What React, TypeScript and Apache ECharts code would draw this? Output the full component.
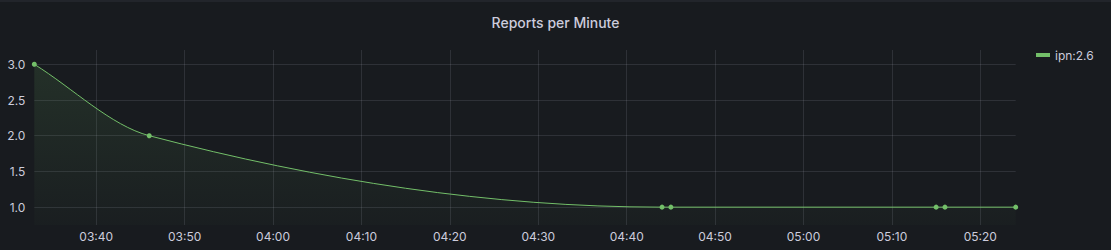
import React, { useEffect, useRef } from "react";
import * as echarts from "echarts";

// time in minutes since 00:00
const times = [213, 226, 284, 285, 315, 316, 324];
const values = [3.0, 2.0, 1.0, 1.0, 1.0, 1.0, 1.0];
const seriesName = "ipn:2.6";
const title = "Reports per Minute";

const fmt = (m: number) => {
  const h = Math.floor(m / 60);
  const mm = Math.round(m % 60);
  return `${String(h).padStart(2, "0")}:${String(mm).padStart(2, "0")}`;
};

// monotone cubic (Fritsch–Carlson) path through pixel points
function monotonePath(pts: number[][]): string {
  const n = pts.length;
  const xs = pts.map((p) => p[0]);
  const ys = pts.map((p) => p[1]);
  let d = `M${xs[0]},${ys[0]}`;
  if (n === 2) return d + `L${xs[1]},${ys[1]}`;
  const dx: number[] = [], ds: number[] = [], ms: number[] = new Array(n);
  for (let i = 0; i < n - 1; i++) {
    dx[i] = xs[i + 1] - xs[i];
    ds[i] = (ys[i + 1] - ys[i]) / dx[i];
  }
  ms[0] = ds[0];
  for (let i = 1; i < n - 1; i++) {
    if (ds[i] === 0 || ds[i - 1] === 0 || ds[i - 1] > 0 !== ds[i] > 0) ms[i] = 0;
    else {
      ms[i] =
        (3 * (dx[i - 1] + dx[i])) /
        ((2 * dx[i] + dx[i - 1]) / ds[i - 1] + (dx[i] + 2 * dx[i - 1]) / ds[i]);
      if (!isFinite(ms[i])) ms[i] = 0;
    }
  }
  ms[n - 1] = ds[n - 2];
  for (let i = 0; i < n - 1; i++) {
    d += `C${xs[i] + dx[i] / 3},${ys[i] + (ms[i] * dx[i]) / 3} ${xs[i + 1] - dx[i] / 3},${
      ys[i + 1] - (ms[i + 1] * dx[i]) / 3
    } ${xs[i + 1]},${ys[i + 1]}`;
  }
  return d;
}

export default function App() {
  const ref = useRef<HTMLDivElement>(null);
  useEffect(() => {
    if (!ref.current) return;
    const chart = echarts.init(ref.current, null, { renderer: "svg" });
    const green = "#73BF69";
    const txt = "#ccccdc";
    const grid = "rgba(204,204,220,0.13)";
    const data = times.map((t, i) => [t, values[i]]);
    chart.setOption({
      animation: false,
      backgroundColor: "#181b1f",
      textStyle: { fontFamily: "Inter" },
      title: {
        text: title,
        left: "center",
        top: 10,
        textStyle: { color: txt, fontSize: 14, fontWeight: 500, fontFamily: "Inter" },
      },
      graphic: [
        { type: "rect", left: 0, top: 0, shape: { width: 1111, height: 2 }, style: { fill: "#22252b" } },
      ],
      legend: {
        left: 1031,
        top: 44,
        icon: "rect",
        itemWidth: 14,
        itemHeight: 4,
        itemGap: 6,
        textStyle: { color: txt, fontSize: 12, fontFamily: "Inter" },
        data: [{ name: seriesName, itemStyle: { color: green } }],
      },
      grid: { left: 34.3, right: 95.3, top: 50, bottom: 25 },
      xAxis: {
        type: "value",
        min: 213,
        max: 324,
        splitNumber: 11,
        minInterval: 10,
        maxInterval: 10,
        axisLine: { show: false },
        axisTick: { show: false },
        axisLabel: {
          color: txt,
          fontSize: 12,
          margin: 5,
          showMinLabel: false,
          showMaxLabel: false,
          formatter: (v: number) => fmt(v),
        },
        splitLine: { show: true, showMinLine: false, showMaxLine: false, lineStyle: { color: grid, width: 1 } },
      },
      yAxis: {
        type: "value",
        min: 0.75,
        max: 3.2,
        splitNumber: 5,
        axisLine: { show: false },
        axisTick: { show: false },
        axisLabel: {
          color: txt,
          fontSize: 12,
          margin: 9,
          showMinLabel: false,
          showMaxLabel: false,
          formatter: (v: number) => v.toFixed(1),
        },
        splitLine: { show: true, showMinLine: false, showMaxLine: false, lineStyle: { color: grid, width: 1 } },
      },
      series: [
        {
          name: seriesName,
          type: "custom",
          data,
          encode: { x: 0, y: 1 },
          itemStyle: { color: green },
          renderItem: (params: any, api: any) => {
            if (params.dataIndex !== 0) return null;
            const pts = data.map((p) => api.coord(p));
            const linePath = monotonePath(pts);
            const cs = params.coordSys;
            const bottom = cs.y + cs.height;
            const last = pts[pts.length - 1];
            const areaPath =
              linePath + `L${last[0]},${bottom}L${pts[0][0]},${bottom}Z`;
            return {
              type: "group",
              children: [
                {
                  type: "path",
                  shape: { pathData: areaPath },
                  style: {
                    fill: new echarts.graphic.LinearGradient(0, 0, 0, 1, [
                      { offset: 0, color: "rgba(115,191,105,0.13)" },
                      { offset: 1, color: "rgba(115,191,105,0.02)" },
                    ]),
                    stroke: "none",
                  },
                  silent: true,
                },
                {
                  type: "path",
                  shape: { pathData: linePath },
                  style: { fill: "none", stroke: green, lineWidth: 1 },
                  silent: true,
                },
              ],
            };
          },
        },
        {
          name: seriesName,
          type: "scatter",
          data,
          symbol: "circle",
          symbolSize: 5,
          itemStyle: { color: green, opacity: 1 },
        },
      ],
    });
    return () => chart.dispose();
  }, []);
  return (
    <div
      ref={ref}
      style={{ position: "fixed", left: 0, top: 0, width: 1111, height: 250 }}
    />
  );
}
